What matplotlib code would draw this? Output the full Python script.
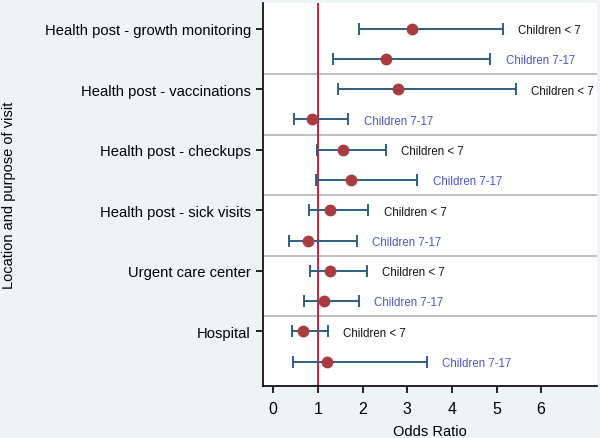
import numpy as np
import matplotlib
matplotlib.use('Agg')
import matplotlib.pyplot as plt

plt.rcParams['font.family'] = ['Liberation Sans', 'DejaVu Sans']

################################################################################
# Data
################################################################################
categories = ['Health post - growth monitoring', 'Health post - vaccinations',
              'Health post - checkups', 'Health post - sick visits',
              'Urgent care center', 'Hospital']
groups = ['Children < 7', 'Children 7-17']

# odds ratio and 95% CI, per category: [children < 7, children 7-17]
or_est = [[3.11, 2.53], [2.79, 0.87], [1.57, 1.74], [1.28, 0.77], [1.28, 1.13], [0.66, 1.20]]
ci_low = [[1.92, 1.33], [1.45, 0.47], [0.99, 0.96], [0.80, 0.36], [0.82, 0.69], [0.41, 0.45]]
ci_high = [[5.14, 4.86], [5.43, 1.68], [2.52, 3.23], [2.13, 1.87], [2.10, 1.92], [1.22, 3.44]]

xticks = [0, 1, 2, 3, 4, 5, 6]

################################################################################
# Plot
################################################################################
bg = '#eef3f6'
fig = plt.figure(figsize=(6, 4.39), dpi=100, facecolor=bg)
ax = fig.add_axes([0.439, 0.119, 0.556, 0.872])
ax.set_facecolor('white')

est = np.array(or_est)
lo = np.array(ci_low)
hi = np.array(ci_high)
label_colors = ['#111111', '#4a55c8']

for i in range(len(categories)):
    for j in range(len(groups)):
        y = 2 * i + j
        ax.errorbar(est[i, j], y, xerr=[[est[i, j] - lo[i, j]], [hi[i, j] - est[i, j]]],
                    fmt='none', ecolor='#2e5f7f', elinewidth=1.4, capsize=4,
                    capthick=1.4, zorder=2)
        ax.plot(est[i, j], y, 'o', color='#a83c3f', markersize=7.5, zorder=3)
        ax.annotate(groups[j], (hi[i, j], y), xytext=(11, -1), textcoords='offset points',
                    va='center', ha='left', fontsize=8.3, color=label_colors[j])
    if i > 0:
        ax.axhline(2 * i - 0.5, color='#b4b4b4', lw=1.2, zorder=1)

ax.axvline(1, color='#c8203c', lw=1.4, zorder=1)

ax.set_xlim(-0.22, 7.25)
ax.set_ylim(11.8, -0.85)
ax.set_xticks(xticks)
ax.set_yticks([2 * i for i in range(len(categories))])
ax.set_yticklabels(categories, fontsize=10.6)
ax.tick_params(axis='x', labelsize=11.5, length=5, width=1.2, pad=6)
ax.tick_params(axis='y', length=5, width=1.2, pad=4)
for s in ['top', 'right']:
    ax.spines[s].set_visible(False)
for s in ['left', 'bottom']:
    ax.spines[s].set_linewidth(1.2)

ax.set_xlabel('Odds Ratio', fontsize=10.5, labelpad=6)
ax.set_ylabel('Location and purpose of visit', fontsize=10.5)
ax.yaxis.set_label_coords(-0.741, 0.5)

fig.savefig('out.png', dpi=100, facecolor=bg)
